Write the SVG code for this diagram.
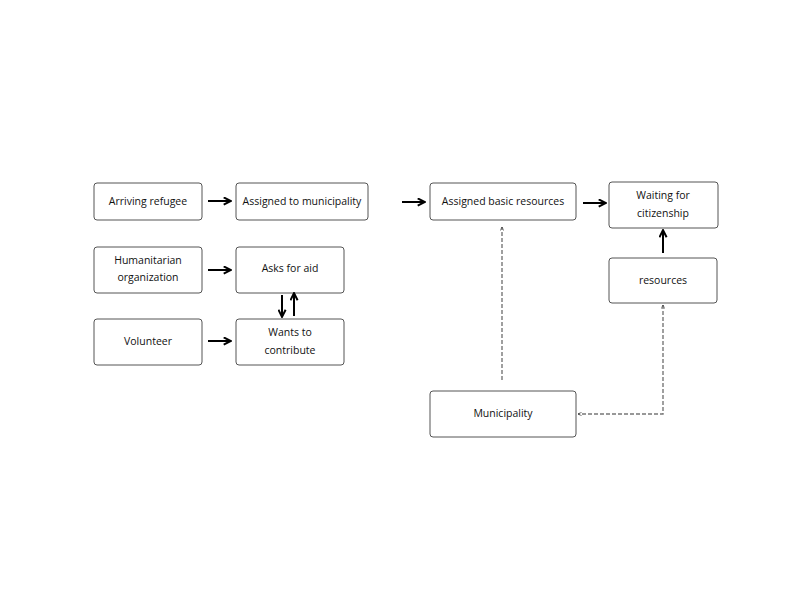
<svg xmlns="http://www.w3.org/2000/svg" width="800" height="600" viewBox="0 0 800 600">
<style>
.box{fill:#fff;stroke:#555;stroke-width:1}
.t{font-family:"Open Sans","DejaVu Sans",sans-serif;font-size:10.5px;fill:#111;text-anchor:middle}
.a{stroke:#000;stroke-width:2;fill:none;marker-end:url(#ah)}
.d{stroke:#777;stroke-width:1.4;stroke-dasharray:4 2;fill:none}
</style>
<defs>
<marker id="ah" viewBox="0 0 10 10" refX="8" refY="5" markerWidth="4.5" markerHeight="4.5" orient="auto"><path d="M1,1 L9,5 L1,9" fill="none" stroke="#000" stroke-width="2.2"/></marker>
<marker id="sm" viewBox="0 0 10 10" refX="9" refY="5" markerWidth="4" markerHeight="4" markerUnits="userSpaceOnUse" orient="auto-start-reverse"><path d="M0,1 L10,5 L0,9" fill="none" stroke="#333" stroke-width="1.6"/></marker>
</defs>
<rect width="800" height="600" fill="#fff"/>
<g id="n-arriving"><rect class="box" x="94" y="183" width="108" height="37" rx="3"/><text class="t" x="148" y="205">Arriving refugee</text></g>
<g id="n-assigned-muni"><rect class="box" x="236" y="183" width="132" height="37" rx="3"/><text class="t" x="302" y="205">Assigned to municipality</text></g>
<g id="n-basic"><rect class="box" x="430" y="183" width="146" height="37" rx="3"/><text class="t" x="503" y="205">Assigned basic resources</text></g>
<g id="n-waiting"><rect class="box" x="609" y="182" width="109" height="46" rx="3"/><text class="t" x="663" y="199">Waiting for</text><text class="t" x="663" y="217">citizenship</text></g>
<g id="n-humanitarian"><rect class="box" x="94" y="247" width="108" height="46" rx="3"/><text class="t" x="148" y="264">Humanitarian</text><text class="t" x="148" y="281">organization</text></g>
<g id="n-asks"><rect class="box" x="236" y="247" width="108" height="46" rx="3"/><text class="t" x="290" y="272">Asks for aid</text></g>
<g id="n-volunteer"><rect class="box" x="94" y="319" width="108" height="46" rx="3"/><text class="t" x="148" y="345">Volunteer</text></g>
<g id="n-wants"><rect class="box" x="236" y="319" width="108" height="46" rx="3"/><text class="t" x="290" y="336">Wants to</text><text class="t" x="290" y="354">contribute</text></g>
<g id="n-resources"><rect class="box" x="609" y="258" width="108" height="45" rx="3"/><text class="t" x="663" y="284">resources</text></g>
<g id="n-municipality"><rect class="box" x="430" y="391" width="146" height="46" rx="3"/><text class="t" x="503" y="417">Municipality</text></g>
<g id="connectors">
<line class="a" x1="208" y1="201" x2="230" y2="201"/>
<line class="a" x1="402" y1="202" x2="424" y2="202"/>
<line class="a" x1="583" y1="203" x2="605" y2="203"/>
<line class="a" x1="208" y1="270" x2="230" y2="270"/>
<line class="a" x1="208" y1="341" x2="230" y2="341"/>
<line class="a" x1="282" y1="295" x2="282" y2="316"/>
<line class="a" x1="294" y1="316" x2="294" y2="294"/>
<line class="a" x1="663" y1="253" x2="663" y2="231"/>
<line class="d" x1="502" y1="380" x2="502" y2="227" marker-end="url(#sm)"/>
<path class="d" d="M663,305 L663,414 L578,414" marker-start="url(#sm)" marker-end="url(#sm)"/>
</g>
</svg>
